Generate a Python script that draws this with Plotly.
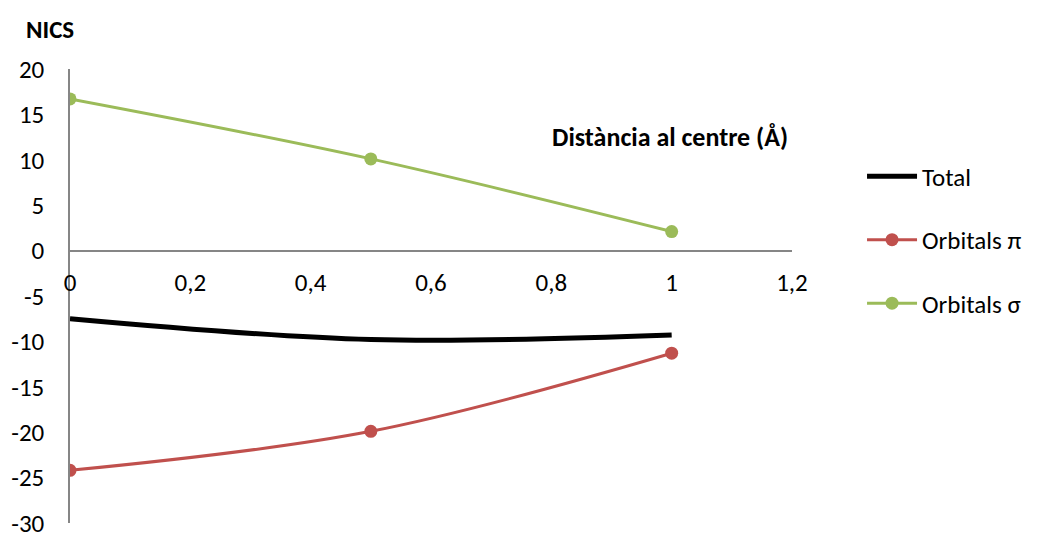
import plotly.graph_objects as go

distance = [0, 0.5, 1]
total = [-7.5, -9.8, -9.3]
orbitals_pi = [-24.2, -19.9, -11.3]
orbitals_sigma = [16.7, 10.1, 2.1]

x_ticks = [0, 0.2, 0.4, 0.6, 0.8, 1, 1.2]
x_tick_labels = ["0", "0,2", "0,4", "0,6", "0,8", "1", "1,2"]
y_ticks = [-30, -25, -20, -15, -10, -5, 0, 5, 10, 15, 20]
y_tick_labels = ["-30", "-25", "-20", "-15", "-10", "-5", "0", "5", "10", "15", "20"]

FONT = "Carlito, Calibri, 'Open Sans', sans-serif"
GREEN = "#9BBB59"
RED = "#C0504D"

fig = go.Figure()
fig.add_trace(go.Scatter(x=distance, y=total, mode="lines", name="Total",
                         line=dict(color="black", width=5, shape="spline"),
                         legendgroup="a"))
fig.add_trace(go.Scatter(x=distance, y=orbitals_pi, mode="lines+markers", name="Orbitals π",
                         line=dict(color=RED, width=3, shape="spline"),
                         marker=dict(size=13, color=RED), legendgroup="b"))
fig.add_trace(go.Scatter(x=distance, y=orbitals_sigma, mode="lines+markers", name="Orbitals σ",
                         line=dict(color=GREEN, width=3, shape="spline"),
                         marker=dict(size=13, color=GREEN), legendgroup="c"))

fig.update_layout(
    width=1039, height=539,
    margin=dict(l=70, r=231, t=69, b=16),
    plot_bgcolor="white", paper_bgcolor="white",
    font=dict(family=FONT, size=25, color="black"),
    showlegend=True,
    legend=dict(x=1.097, xanchor="left", y=0.814, yanchor="top",
                bgcolor="rgba(0,0,0,0)", itemwidth=50,
                tracegroupgap=28, font=dict(size=25)),
    xaxis=dict(range=[0, 1.2], tickvals=x_ticks, ticktext=x_tick_labels,
               showgrid=False, zeroline=False, showline=True, linecolor="#868686",
               linewidth=1.5, anchor="free", position=0.6, ticks="",
               ticklabelstandoff=10, automargin=False, ticklabeloverflow="allow"),
    yaxis=dict(range=[-30, 20], tickvals=y_ticks, ticktext=y_tick_labels,
               showgrid=False, zeroline=False,
               showline=True, linecolor="#868686", linewidth=1.5, ticks="",
               ticklabelstandoff=19, automargin=False, ticklabeloverflow="allow"),
    annotations=[
        dict(text="<b>NICS</b>", xref="paper", yref="paper", x=-0.0642, y=1.086,
             xanchor="left", yanchor="middle", showarrow=False, font=dict(size=25)),
        dict(text="<b>Distància al centre (Å)</b>", xref="x", yref="y", x=0.998, y=12.5,
             xanchor="center", yanchor="middle", showarrow=False, font=dict(size=26)),
    ],
)

fig.write_html(
    "out.html",
    config={"displayModeBar": False},
    post_script="document.body.style.margin='0';document.body.style.overflow='hidden';",
)
